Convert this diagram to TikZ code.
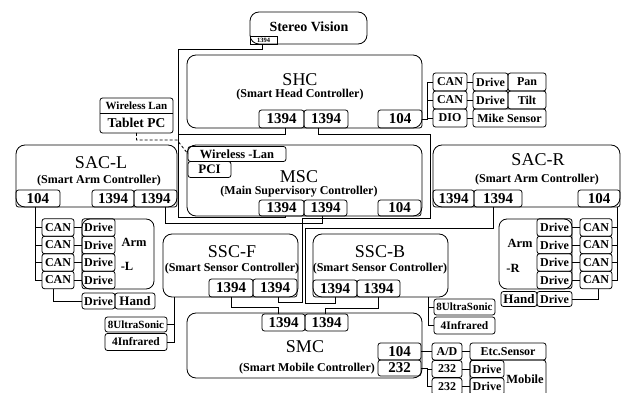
\documentclass[tikz,border=0pt]{standalone}
\usepackage{fontspec}
\setmainfont{Liberation Serif}
\begin{document}
\begin{tikzpicture}[x=1pt,y=-1pt,
  unit/.style={draw=black,line width=0.8pt,rounded corners=9pt,inner sep=0pt,outer sep=0pt},
  port/.style={draw=black,line width=0.8pt,rounded corners=2.5pt,inner sep=0pt,outer sep=0pt,font=\bfseries\fontsize{15}{15}\selectfont},
  dev/.style={draw=black,line width=0.8pt,rounded corners=2.5pt,inner sep=0pt,outer sep=0pt,font=\bfseries\fontsize{12}{12}\selectfont},
  ttl/.style={inner sep=0pt,font=\fontsize{18}{18}\selectfont},
  sub/.style={inner sep=0pt,font=\bfseries\fontsize{12}{12}\selectfont},
  lbl/.style={inner sep=0pt,font=\bfseries\fontsize{12.5}{12.5}\selectfont},
  wire/.style={draw=black,line width=0.8pt},
  dwire/.style={draw=black,line width=0.8pt,dashed,dash pattern=on 3pt off 2pt}]
\useasboundingbox (0,0) rectangle (624,393);

% ---------- Stereo vision ----------
\node[unit,minimum width=117pt,minimum height=32pt] (sv) at (308.5,28) {};
\node[lbl,font=\bfseries\fontsize{14}{14}\selectfont] (svt) at (309,27) {Stereo Vision};
\node[draw=black,line width=0.6pt,inner sep=0pt,minimum width=27pt,minimum height=8pt,font=\bfseries\fontsize{6.5}{6.5}\selectfont] (svp) at (263.5,40) {1394};

% ---------- SHC ----------
\node[unit,minimum width=235pt,minimum height=73pt] (shc) at (304.5,91.5) {};
\node[ttl] (shct) at (300,80) {SHC};
\node[sub] (shcs) at (300,95) {(Smart Head Controller)};
\node[port,minimum width=45pt,minimum height=18pt] (shc1) at (281.5,119) {1394};
\node[port,minimum width=44pt,minimum height=18pt] (shc2) at (326,119) {1394};
\node[port,minimum width=44pt,minimum height=18pt] (shc3) at (400,119) {104};

\node[dev,minimum width=34pt,minimum height=18pt] (hcan1) at (450,82) {CAN};
\node[dev,minimum width=34pt,minimum height=18pt] (hcan2) at (450,100) {CAN};
\node[dev,minimum width=34pt,minimum height=18pt] (hdio) at (450,118) {DIO};
\node[dev,minimum width=35pt,minimum height=18pt] (hdrv1) at (490.5,82) {Drive};
\node[dev,minimum width=38pt,minimum height=18pt] (pan) at (527,82) {Pan};
\node[dev,minimum width=35pt,minimum height=18pt] (hdrv2) at (490.5,100) {Drive};
\node[dev,minimum width=38pt,minimum height=18pt] (tilt) at (527,100) {Tilt};
\node[dev,minimum width=73pt,minimum height=18pt] (mike) at (509.5,118) {Mike Sensor};
\coordinate (hbus) at (427,82);
\draw[wire] (shc3.east) -- (shc3.east -| hbus) |- (hcan1.west);
\draw[wire] (hbus |- hcan2.west) -- (hcan2.west);
\draw[wire] (hbus |- hdio.west) -- (hdio.west);
\draw[wire] (hcan1) -- (hdrv1);
\draw[wire] (hcan2) -- (hdrv2);
\draw[wire] (hdio) -- (mike);

% ---------- Tablet PC ----------
\node[dev,minimum width=73pt,minimum height=35pt] (tab) at (136.5,115.5) {};
\draw[line width=0.8pt] (tab.west |- 0,113) -- (tab.east |- 0,113);
\node[inner sep=0pt,font=\bfseries\fontsize{11}{11}\selectfont] (tabw) at (136.5,105.5) {Wireless Lan};
\node[inner sep=0pt,font=\bfseries\fontsize{13.5}{13.5}\selectfont] (tabp) at (136.5,123) {Tablet PC};

% ---------- MSC ----------
\node[unit,minimum width=235pt,minimum height=71pt] (msc) at (304.5,180.5) {};
\node[ttl] (msct) at (299,177) {MSC};
\node[sub] (mscs) at (299,192) {(Main Supervisory Controller)};
\node[dev,font=\bfseries\fontsize{12.5}{12.5}\selectfont,minimum width=98pt,minimum height=15pt] (wlan) at (237,154) {Wireless -Lan};
\node[dev,font=\bfseries\fontsize{13}{13}\selectfont,minimum width=43pt,minimum height=16pt] (pci) at (209.5,169.5) {PCI};
\node[port,minimum width=45pt,minimum height=16pt] (msc1) at (281.5,208) {1394};
\node[port,minimum width=43pt,minimum height=16pt] (msc2) at (325.5,208) {1394};
\node[port,minimum width=43pt,minimum height=16pt] (msc3) at (399.5,208) {104};
\draw[dwire] (tab.south) |- (177,140) -- (wlan.west);

% ---------- SAC-L ----------
\node[unit,minimum width=161pt,minimum height=62pt] (sacl) at (96.5,176) {};
\node[ttl] (saclt) at (101,163) {SAC-L};
\node[sub] (sacls) at (99,181) {(Smart Arm Controller)};
\node[port,minimum width=44pt,minimum height=17pt] (sacl3) at (38,198.5) {104};
\node[port,minimum width=42pt,minimum height=17pt] (sacl1) at (113,198.5) {1394};
\node[port,minimum width=43pt,minimum height=17pt] (sacl2) at (155.5,198.5) {1394};

\node[draw=black,line width=0.8pt,rounded corners=8pt,minimum width=72pt,minimum height=70pt,inner sep=0pt] (arml) at (118,254) {};
\node[lbl] (armlt) at (134,242) {Arm};
\node[lbl] (armlr) at (127,266) {-L};
\foreach \i/\y in {1/227.5,2/245,3/262.5,4/280}{
  \node[dev,minimum width=32pt,minimum height=17.5pt] (lcan\i) at (58,\y) {CAN};
  \node[dev,minimum width=33pt,minimum height=17.5pt] (ldrv\i) at (98.5,\y) {Drive};
  \draw[wire] (lcan\i) -- (ldrv\i);
}
\coordinate (lbus) at (35,207);
\draw[wire] (sacl3.south -| lbus) -- (lbus |- lcan4.west) -- (lcan4.west);
\foreach \i in {1,2,3}{\draw[wire] (lbus |- lcan\i.west) -- (lcan\i.west);}
\node[dev,minimum width=33pt,minimum height=16pt] (lhdrv) at (98.5,301) {Drive};
\node[dev,minimum width=40pt,minimum height=16pt,font=\bfseries\fontsize{13}{13}\selectfont] (lhand) at (135,301) {Hand};
\draw[wire] (lcan4.south -| 53,0) |- (lhdrv.west);

% ---------- SAC-R ----------
\node[unit,minimum width=187pt,minimum height=62pt] (sacr) at (526.5,176) {};
\node[ttl] (sacrt) at (538,160) {SAC-R};
\node[sub] (sacrs) at (537,180) {(Smart Arm Controller)};
\node[port,minimum width=41pt,minimum height=17pt] (sacr1) at (453.5,198.5) {1394};
\node[port,minimum width=48pt,minimum height=17pt] (sacr2) at (498,198.5) {1394};
\node[port,minimum width=42pt,minimum height=17pt] (sacr3) at (599,198.5) {104};

\node[draw=black,line width=0.8pt,rounded corners=8pt,minimum width=73pt,minimum height=70pt,inner sep=0pt] (armr) at (535.5,254) {};
\node[lbl] (armrt) at (520,243) {Arm};
\node[lbl] (armrr) at (513,268) {-R};
\foreach \i/\y in {1/227.5,2/245,3/262.5,4/280}{
  \node[dev,minimum width=32pt,minimum height=17.5pt] (rcan\i) at (596,\y) {CAN};
  \node[dev,minimum width=35pt,minimum height=17.5pt] (rdrv\i) at (554.5,\y) {Drive};
  \draw[wire] (rdrv\i) -- (rcan\i);
}
\coordinate (rbus) at (617,207);
\draw[wire] (rbus) -- (rbus |- rcan4.east) -- (rcan4.east);
\foreach \i in {1,2,3}{\draw[wire] (rbus |- rcan\i.east) -- (rcan\i.east);}
\node[dev,minimum width=35pt,minimum height=15pt] (rhdrv) at (554.5,299) {Drive};
\node[dev,minimum width=36pt,minimum height=15pt,font=\bfseries\fontsize{13}{13}\selectfont] (rhand) at (519,299) {Hand};
\draw[wire] (rhdrv.east) -| (rcan4.south -| 598,0);

% ---------- SSC-F ----------
\node[unit,minimum width=135pt,minimum height=63pt] (sscf) at (230.5,265.5) {};
\node[ttl] (sscft) at (232,252) {SSC-F};
\node[sub] (sscfs) at (232,269) {(Smart Sensor Controller)};
\node[port,minimum width=44pt,minimum height=18pt] (sscf1) at (231,288) {1394};
\node[port,minimum width=44pt,minimum height=18pt] (sscf2) at (275,288) {1394};
\node[dev,font=\bfseries\fontsize{11}{11}\selectfont,minimum width=62pt,minimum height=15pt] (fus) at (136,324.5) {8UltraSonic};
\node[dev,font=\bfseries\fontsize{11.5}{11.5}\selectfont,minimum width=62pt,minimum height=17pt] (fir) at (136,342) {4Infrared};
\draw[wire] (sscf.south -| 174,0) |- (fir.east);
\draw[wire] (fus.east) -- (fus.east -| 174,0);

% ---------- SSC-B ----------
\node[unit,minimum width=135pt,minimum height=63pt] (sscb) at (380.5,265.5) {};
\node[ttl] (sscbt) at (380,252) {SSC-B};
\node[sub] (sscbs) at (380,269) {(Smart Sensor Controller)};
\node[port,minimum width=44pt,minimum height=17pt] (sscb1) at (335,288.5) {1394};
\node[port,minimum width=43pt,minimum height=17pt] (sscb2) at (378.5,288.5) {1394};
\node[dev,font=\bfseries\fontsize{11}{11}\selectfont,minimum width=61pt,minimum height=16pt] (bus8) at (464.5,307) {8UltraSonic};
\node[dev,font=\bfseries\fontsize{11.5}{11.5}\selectfont,minimum width=61pt,minimum height=17pt] (bir) at (464.5,325.5) {4Infrared};
\draw[wire] (sscb.south -| 428,0) |- (bir.west);
\draw[wire] (bus8.west) -- (bus8.west -| 428,0);

% ---------- SMC ----------
\node[unit,minimum width=235pt,minimum height=65pt] (smc) at (304.5,345.5) {};
\node[ttl] (smct) at (305,347) {SMC};
\node[sub] (smcs) at (307,369) {(Smart Mobile Controller)};
\node[port,minimum width=43pt,minimum height=17pt] (smc1) at (283.5,322.5) {1394};
\node[port,minimum width=43pt,minimum height=17pt] (smc2) at (326.5,322.5) {1394};
\node[port,minimum width=43pt,minimum height=17pt] (smc3) at (399.5,351.5) {104};
\node[port,minimum width=43pt,minimum height=16pt] (smc4) at (399.5,368) {232};
\node[dev,minimum width=30pt,minimum height=17pt] (ad) at (447,351.5) {A/D};
\node[dev,minimum width=30pt,minimum height=17pt] (m232a) at (447,369) {232};
\node[dev,minimum width=30pt,minimum height=17pt] (m232b) at (447,386.5) {232};
\node[dev,minimum width=76pt,minimum height=17pt] (etc) at (508,351.5) {Etc.Sensor};
\node[draw=black,line width=0.8pt,rounded corners=3pt,minimum width=76pt,minimum height=36pt,inner sep=0pt] (mob) at (508,378) {};
\node[lbl] (mobt) at (525,379) {Mobile};
\node[dev,minimum width=34pt,minimum height=17pt] (mdrv1) at (487,369) {Drive};
\node[dev,minimum width=34pt,minimum height=17pt] (mdrv2) at (487,386.5) {Drive};
\draw[wire] (smc3.east) -- (ad.west);
\draw[wire] (ad) -- (etc);
\draw[wire] (smc4.east) -- (427,368) |- (m232b.west);
\draw[wire] (427,369) -- (m232a.west);
\draw[wire] (m232a) -- (mdrv1);
\draw[wire] (m232b) -- (mdrv2);

% ---------- 1394 links ----------
% stereo vision down the left side to the MSC, with the SHC joining on the way
\draw[wire] (svp.south -| 262,0) |- (178.5,49) -- (178.5,217) -- (285,217) -- (msc1.south -| 285,0);
\draw[wire] (shc1.south -| 285,0) |- (178.5,134);
% SHC down the right side to SSC-F
\draw[wire] (shc2.south -| 318,0) |- (430,134) |- (302,218) |- (278,302) -- (sscf2.south -| 278,0);
% MSC to SAC-L
\draw[wire] (msc2.south -| 322,0) |- (165,223) -- (sacl2.south -| 165,0);
% SAC-R to SSC-B
\draw[wire] (sacr2.south -| 493,0) |- (305.5,228) |- (335,303) -- (sscb1.south -| 335,0);
% sensor controllers to SMC
\draw[wire] (sscf1.south) |- (278,307) -- (smc1.north -| 278,0);
\draw[wire] (sscb2.south) |- (325,308) -- (smc2.north -| 325,0);
\end{tikzpicture}
\end{document}
